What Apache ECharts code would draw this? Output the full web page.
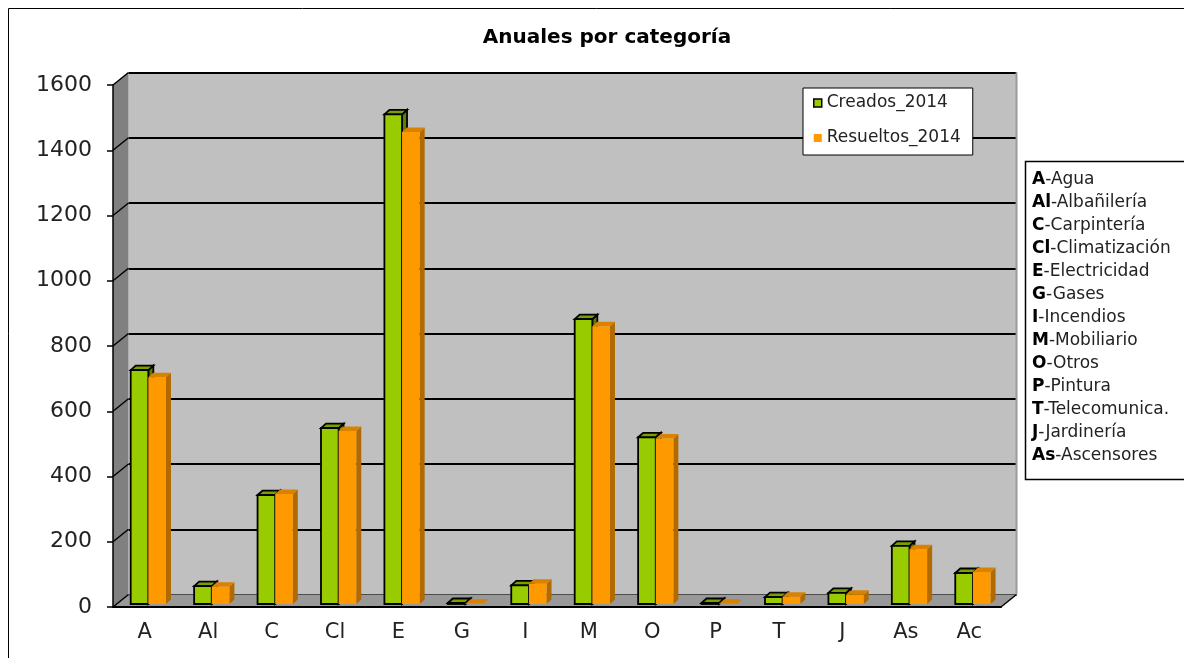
<!DOCTYPE html>
<html>
<head>
<meta charset="utf-8">
<script src="https://cdn.jsdelivr.net/npm/echarts@6/dist/echarts.min.js"></script>
<style>
  html, body { margin: 0; padding: 0; background: #fff; }
  #main { width: 1184px; height: 658px; }
</style>
</head>
<body>
<div id="main"></div>
<script>
// categorias y valores anuales
const categories = ['A', 'Al', 'C', 'Cl', 'E', 'G', 'I', 'M', 'O', 'P', 'T', 'J', 'As', 'Ac']
const creados2014 = [717, 55, 334, 539, 1501, 3, 57, 873, 511, 3, 21, 34, 178, 95]
const resueltos2014 = [695, 53, 337, 530, 1447, 1, 62, 851, 507, 1, 22, 28, 168, 98]
const yTicks = [0, 200, 400, 600, 800, 1000, 1200, 1400, 1600]
// leyenda de la derecha
const legendCodes = ['A', 'Al', 'C', 'Cl', 'E', 'G', 'I', 'M', 'O', 'P', 'T', 'J', 'As']
const legendNames = ['Agua', 'Albañilería', 'Carpintería', 'Climatización', 'Electricidad', 'Gases',
  'Incendios', 'Mobiliario', 'Otros', 'Pintura', 'Telecomunica.', 'Jardinería', 'Ascensores']

const FONT = 'DejaVu Sans'
const DEPTH = [15.5, -12.5] // profundidad de las paredes
const BAR_DEPTH = [5, -4.5]

var chartDom = document.getElementById('main')
var myChart = echarts.init(chartDom)

const barColors = [
  { front: '#99cc00', top: '#7a9f00', side: '#5f7d00', stroke: '#000' },
  { front: '#ff9900', top: '#d98200', side: '#b06a00', stroke: null }
]

const barRender = (s) => (params, api) => {
  const cat = api.value(0)
  const val = api.value(1)
  const c0 = api.coord([cat, 0])
  const c1 = api.coord([cat, val])
  const w = api.size([1, 0])[0]
  const start = c0[0] - w / 2
  const bw = w * 0.278
  const x0 = start + w * (s === 0 ? 0.279 : 0.557)
  const yb = c0[1] - 3
  const yt = c1[1] - 3
  const dx = BAR_DEPTH[0], dy = BAR_DEPTH[1]
  const col = barColors[s]
  const st = col.stroke ? { stroke: col.stroke, lineWidth: 1.8 } : {}
  return {
    type: 'group',
    children: [
      {
        type: 'polygon',
        shape: { points: [[x0 + bw, yt], [x0 + bw + dx, yt + dy], [x0 + bw + dx, yb + dy], [x0 + bw, yb]] },
        style: Object.assign({ fill: col.side }, st)
      },
      {
        type: 'polygon',
        shape: { points: [[x0, yt], [x0 + dx, yt + dy], [x0 + bw + dx, yt + dy], [x0 + bw, yt]] },
        style: Object.assign({ fill: col.top }, st)
      },
      {
        type: 'rect',
        shape: { x: x0, y: yt, width: bw, height: yb - yt },
        style: Object.assign({ fill: col.front }, st)
      }
    ]
  }
}

const wallRender = (params, api) => {
  const cs = params.coordSys
  const x = cs.x, y = cs.y, w = cs.width, h = cs.height
  const dx = DEPTH[0], dy = DEPTH[1]
  const children = [
    {
      type: 'polygon',
      shape: { points: [[x, y], [x + dx, y + dy], [x + dx, y + h + dy], [x, y + h]] },
      style: { fill: '#808080' }
    },
    {
      type: 'polygon',
      shape: { points: [[x, y + h], [x + dx, y + h + dy], [x + w + dx, y + h + dy], [x + w, y + h]] },
      style: { fill: '#999999' }
    },
    {
      type: 'line',
      shape: { x1: x + w, y1: y + h, x2: x + w + dx, y2: y + h + dy },
      style: { stroke: '#000', lineWidth: 1.5 }
    },
    {
      type: 'line',
      shape: { x1: x + w + dx, y1: y + dy, x2: x + w + dx, y2: y + h + dy },
      style: { stroke: '#9a9a9a', lineWidth: 2 }
    }
  ]
  yTicks.forEach((v) => {
    const p = api.coord([0, v])
    children.push({
      type: 'line',
      shape: { x1: x, y1: p[1], x2: x + dx, y2: p[1] + dy },
      style: { stroke: '#000', lineWidth: 1.5 }
    })
  })
  return { type: 'group', children: children }
}

const legendText = legendCodes.map((c, i) => '{b|' + c + '}{n|-' + legendNames[i] + '}').join('\n')

var option = {
  animation: false,
  title: {
    text: 'Anuales por categoría',
    left: 602,
    top: 23,
    textAlign: 'center',
    textStyle: { fontFamily: FONT, fontSize: 20, fontWeight: 'bold', color: '#000' }
  },
  legend: {
    orient: 'vertical',
    left: 803,
    top: 88,
    backgroundColor: '#fff',
    borderColor: '#000',
    borderWidth: 1,
    borderRadius: 0,
    padding: [5, 12, 7, 10],
    itemGap: 15,
    itemWidth: 8,
    itemHeight: 8,
    textStyle: { fontFamily: FONT, fontSize: 17, color: '#222', lineHeight: 20 },
    data: [
      { name: 'Creados_2014', icon: 'rect', itemStyle: { color: '#99cc00', borderColor: '#000', borderWidth: 1.5 } },
      { name: 'Resueltos_2014', icon: 'rect', itemStyle: { color: '#ff9900', borderWidth: 0 } }
    ]
  },
  grid: [
    { left: 113, top: 85, width: 888, height: 522 },
    { left: 128.5, top: 72.5, width: 888, height: 522, show: true, backgroundColor: '#c0c0c0', borderWidth: 0 }
  ],
  xAxis: [
    {
      type: 'category',
      gridIndex: 0,
      data: categories,
      z: 10,
      axisLine: { lineStyle: { color: '#000', width: 2 } },
      axisTick: { length: 6, interval: 0, lineStyle: { color: '#000', width: 1.5 } },
      axisLabel: { margin: 15, fontFamily: FONT, fontSize: 21, color: '#222', interval: 0 }
    },
    { type: 'category', gridIndex: 1, data: categories, show: false }
  ],
  yAxis: [
    {
      type: 'value',
      gridIndex: 0,
      min: 0,
      max: 1600,
      interval: 200,
      z: 10,
      axisLine: { show: true, lineStyle: { color: '#000', width: 1.5 } },
      axisTick: { show: true, length: 6, lineStyle: { color: '#000', width: 1.5 } },
      axisLabel: { margin: 21, fontFamily: FONT, fontSize: 22, color: '#222', formatter: (v) => String(v) },
      splitLine: { show: false }
    },
    {
      type: 'value',
      gridIndex: 1,
      min: 0,
      max: 1600,
      interval: 200,
      axisLine: { show: false },
      axisTick: { show: false },
      axisLabel: { show: false },
      splitLine: { show: true, lineStyle: { color: '#000', width: 1.8 } }
    }
  ],
  graphic: [
    {
      type: 'rect',
      shape: { x: 8.5, y: 8.5, width: 1200, height: 700 },
      style: { fill: 'transparent', stroke: '#000', lineWidth: 1 },
      silent: true,
      z: 100
    },
    {
      type: 'rect',
      shape: { x: 1025.5, y: 161.5, width: 200, height: 318 },
      style: { fill: '#fff', stroke: '#000', lineWidth: 1.5 },
      z: 100
    },
    {
      type: 'text',
      left: 1032,
      top: 171,
      z: 101,
      style: {
        text: legendText,
        fill: '#222',
        rich: {
          b: { fontFamily: FONT, fontSize: 17, fontWeight: 'bold', lineHeight: 23, fill: '#000' },
          n: { fontFamily: FONT, fontSize: 17, lineHeight: 23, fill: '#222' }
        }
      }
    }
  ],
  series: [
    {
      name: 'paredes',
      type: 'custom',
      xAxisIndex: 0,
      yAxisIndex: 0,
      silent: true,
      z: 1,
      clip: false,
      renderItem: wallRender,
      data: [[0, 0]]
    },
    {
      name: 'Creados_2014',
      type: 'custom',
      xAxisIndex: 0,
      yAxisIndex: 0,
      z: 3,
      clip: false,
      itemStyle: { color: '#99cc00' },
      renderItem: barRender(0),
      data: categories.map((c, i) => [i, creados2014[i]])
    },
    {
      name: 'Resueltos_2014',
      type: 'custom',
      xAxisIndex: 0,
      yAxisIndex: 0,
      z: 4,
      clip: false,
      itemStyle: { color: '#ff9900' },
      renderItem: barRender(1),
      data: categories.map((c, i) => [i, resueltos2014[i]])
    }
  ]
}

option && myChart.setOption(option)
</script>
</body>
</html>
